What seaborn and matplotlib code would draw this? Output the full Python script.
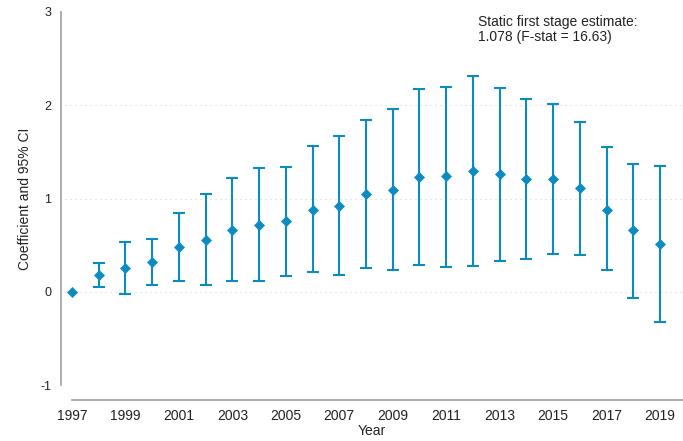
import matplotlib
matplotlib.use("Agg")
import matplotlib.pyplot as plt
import seaborn as sns
import pandas as pd

years = list(range(1997, 2020))
coef = [0.00, 0.18, 0.26, 0.32, 0.48, 0.56, 0.66, 0.72, 0.76, 0.88, 0.92, 1.05,
        1.09, 1.23, 1.24, 1.29, 1.26, 1.21, 1.21, 1.11, 0.88, 0.66, 0.51]
ci_low = [0.00, 0.05, -0.02, 0.07, 0.12, 0.07, 0.11, 0.12, 0.17, 0.21, 0.18, 0.26,
          0.23, 0.29, 0.27, 0.28, 0.33, 0.35, 0.41, 0.39, 0.23, -0.07, -0.32]
ci_high = [0.00, 0.31, 0.53, 0.57, 0.84, 1.05, 1.22, 1.33, 1.34, 1.56, 1.67, 1.84,
           1.96, 2.17, 2.20, 2.31, 2.19, 2.07, 2.01, 1.82, 1.55, 1.37, 1.35]
x_ticks = list(range(1997, 2020, 2))
y_ticks = [-1, 0, 1, 2, 3]

df = pd.DataFrame({"year": years, "coef": coef, "lo": ci_low, "hi": ci_high})

sns.set_style("white")
plt.rcParams["font.family"] = ["Liberation Sans", "DejaVu Sans"]

blue = "#0a8bc2"
axis_gray = "#a0a0a0"

fig = plt.figure(figsize=(6.83, 4.41), dpi=100)
ax = fig.add_axes([61 / 683, 1 - 385 / 441, 1 - 61 / 683, (385 - 12) / 441])

# horizontal dotted reference lines
for yv in [-1, 0, 1, 2]:
    ax.plot([1996.75, 2019.86], [yv, yv], color="#d4d4d4", lw=0.8,
            ls=(0, (1, 3.5)), zorder=0)

# confidence intervals
ci = df[df["hi"] > df["lo"]]
ax.errorbar(ci["year"], ci["coef"],
            yerr=[ci["coef"] - ci["lo"], ci["hi"] - ci["coef"]],
            fmt="none", ecolor=blue, elinewidth=1.5, capsize=4, capthick=1.5,
            zorder=2)

# point estimates
sns.scatterplot(data=df, x="year", y="coef", marker="D", s=26, color=blue,
                edgecolor=blue, linewidth=0.5, ax=ax, zorder=3)

ax.set_xlim(1996.59, 2019.86)
ax.set_ylim(-1, 3)
ax.set_xticks(x_ticks)
ax.set_yticks(y_ticks)
ax.set_yticklabels([str(v) for v in y_ticks])

for side in ["top", "right"]:
    ax.spines[side].set_visible(False)
ax.spines["left"].set_color(axis_gray)
ax.spines["bottom"].set_color(axis_gray)
ax.spines["left"].set_linewidth(1.2)
ax.spines["bottom"].set_linewidth(1.2)
ax.spines["bottom"].set_position(("outward", 11))
ax.spines["bottom"].set_bounds(1997, 2019.86)
ax.tick_params(axis="both", colors=axis_gray, labelcolor="#222222",
               labelsize=10, length=4, width=1.2, direction="out", pad=2)
ax.tick_params(axis="y", labelsize=9, pad=3)

ax.set_xlabel("Year", fontsize=10, color="#222222", labelpad=1)
ax.set_ylabel("Coefficient and 95% CI", fontsize=10, color="#222222", labelpad=6)

fig.text(478 / 683, 1 - 15 / 441,
         "Static first stage estimate:\n1.078 (F-stat = 16.63)",
         fontsize=10, color="#222222", ha="left", va="top", linespacing=1.05)

fig.savefig("out.png", dpi=100)
